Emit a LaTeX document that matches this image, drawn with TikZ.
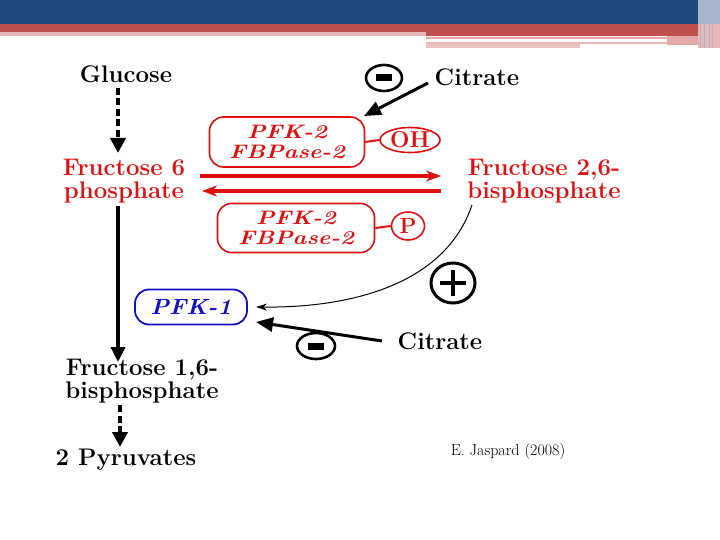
\documentclass[tikz,border=0pt]{standalone}
\usepackage{fontspec}
\usetikzlibrary{arrows.meta,shapes.geometric}
\definecolor{hblue}{HTML}{1F497D}
\definecolor{hred}{HTML}{C0504D}
\definecolor{hpink}{HTML}{E3A8A7}
\definecolor{dred}{HTML}{E01010}
\definecolor{dblue}{HTML}{1010C0}
\newcommand{\widetxt}[1]{\scalebox{1.2}[1]{#1}}
\begin{document}
\begin{tikzpicture}[x=1pt,y=-1pt,
  lbl/.style={font=\fontsize{24}{23}\selectfont\bfseries, inner sep=0pt, align=center},
  enz/.style={draw=dred, line width=1.6pt, rounded corners=14pt, text=dred, font=\fontsize{19.5}{20}\selectfont\bfseries\itshape, align=center, minimum width=155pt, minimum height=50pt, inner sep=0pt},
  sign/.style={draw, line width=2.6pt, ellipse, minimum width=36pt, minimum height=26pt, inner sep=0pt},
  blk/.style={line width=3.5pt, -{Triangle[length=15pt,width=14pt]}},
  dsh/.style={line width=4.5pt, dash pattern=on 7pt off 3.5pt, -{Triangle[length=15pt,width=15pt]}},
  rarr/.style={draw=dred, line width=3.2pt, -{Stealth[length=15pt,width=11pt]}, dred},
  cit/.style={line width=3pt, -{Triangle[length=17pt,width=14pt]}}
]
\useasboundingbox (0,0) rectangle (720,540);
% header
\fill[hblue] (0,0) rectangle (698,24);
\fill[hred] (0,24) rectangle (698,32);
\fill[hpink!80] (0,32) rectangle (426,36);
\fill[hred] (426,32) rectangle (698,36);
\fill[hpink] (426,37) rectangle (667,39);
\fill[hpink!70] (426,42) rectangle (580,48);
\fill[hpink!80] (426,42) rectangle (667,44);
\fill[hpink] (667,36) rectangle (698,45);
\fill[hblue!40] (698,0) rectangle (720,24);
\fill[hred!40] (698,24) rectangle (720,48);
\foreach \xx in {700,704,709,712}{\fill[white!60!hblue] (\xx,0) rectangle (\xx+1,48);}

% main column
\node[lbl] (glu) at (126,74) {Glucose};
\node[lbl, text=dred] (f6p) at (124,181) {Fructose 6\\phosphate};
\node[lbl] (f16) at (142,381) {Fructose 1,6-\\bisphosphate};
\node[lbl] (pyr) at (126,460) {2 Pyruvates};
\node[font=\fontsize{16}{16}\selectfont, inner sep=0pt] (cred) at (508,452) {E. Jaspard (2008)};

\coordinate (g1) at (118,88);
\coordinate (g2) at (118,153);
\draw[dsh] (g1) -- (g2);
\coordinate (s1) at (118,206);
\coordinate (s2) at (118,362);
\draw[blk] (s1) -- (s2);
\coordinate (p1) at (120,405);
\coordinate (p2) at (120,447);
\draw[dsh] (p1) -- (p2);

% PFK-2 boxes
\node[enz] (b1) at (287,142) {\widetxt{PFK-2}\\\widetxt{FBPase-2}};
\node[draw=dred, line width=1.6pt, ellipse, minimum width=60pt, minimum height=25pt, inner sep=0pt, text=dred, font=\fontsize{23}{23}\selectfont\bfseries] (oh) at (410,140) {OH};
\draw[dred, line width=2pt] (b1.east) -- (oh.west);
\node[enz, minimum width=157pt, minimum height=49pt] (b2) at (296,228) {\widetxt{PFK-2}\\\widetxt{FBPase-2}};
\node[draw=dred, line width=1.6pt, ellipse, minimum width=33pt, minimum height=28pt, inner sep=0pt, text=dred, font=\fontsize{22}{22}\selectfont\bfseries] (ph) at (408,226) {P};
\draw[dred, line width=2pt] (b2.east) -- (ph.west);

\node[lbl, text=dred] (f26) at (544,181) {Fructose 2,6-\\bisphosphate};
\coordinate (r1a) at (200,176);
\coordinate (r1b) at (441,176);
\coordinate (r2a) at (441,191);
\coordinate (r2b) at (202,191);
\draw[rarr] (r1a) -- (r1b);
\draw[rarr] (r2a) -- (r2b);

% citrate top
\node[lbl] (cit1) at (477,77) {Citrate};
\node[sign] (m1) at (384,78) {};
\fill (m1.center) +(-8,-3.5) rectangle +(8,3.5);
\coordinate (c1a) at (428,83);
\coordinate (c1b) at (364,116);
\draw[cit] (c1a) -- (c1b);

% PFK-1
\node[draw=dblue, line width=1.8pt, rounded corners=14pt, minimum width=112pt, minimum height=35pt, inner sep=0pt, text=dblue, font=\fontsize{22}{22}\selectfont\bfseries\itshape] (pfk1) at (191,307) {\scalebox{1.08}[1]{PFK-1}};
\node[sign, line width=3pt, minimum width=44pt, minimum height=40pt] (plus) at (453,283) {};
\draw[line width=4pt] (plus.center) +(-13,0) -- +(13,0) (plus.center) +(0,-13) -- +(0,13);
\coordinate (cv) at (472,205);
\draw[line width=1pt, -{Stealth[length=11pt,width=7pt]}] (cv) .. controls (445,285) and (350,308) .. (256,307);

\node[lbl] (cit2) at (440,341) {Citrate};
\node[sign, minimum width=38pt] (m2) at (316,346) {};
\fill (m2.center) +(-8,-3.5) rectangle +(8,3.5);
\coordinate (c2a) at (382,341);
\coordinate (c2b) at (256,322);
\draw[cit] (c2a) -- (c2b);
\end{tikzpicture}
\end{document}
